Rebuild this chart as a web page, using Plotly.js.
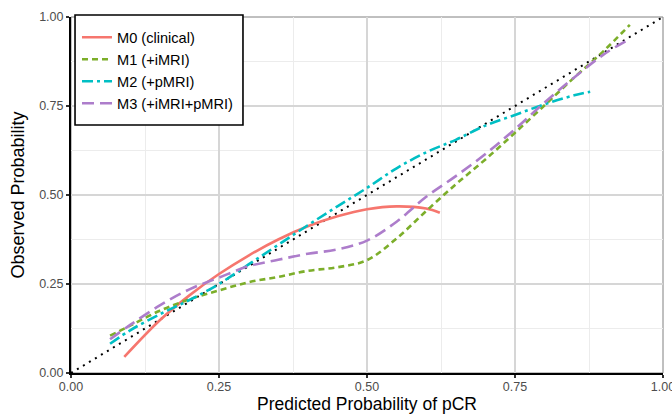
<!DOCTYPE html>
<html>
<head>
<meta charset="utf-8">
<script src="https://cdn.plot.ly/plotly-3.0.1.min.js"></script>
<style>html,body{margin:0;padding:0;background:#fff;}#chart{width:672px;height:414px;}</style>
</head>
<body>
<div id="chart"></div>
<script>
// Calibration curves
const seriesNames = ["M0 (clinical)", "M1 (+iMRI)", "M2 (+pMRI)", "M3 (+iMRI+pMRI)"];

const m0x = [0.09, 0.15, 0.20, 0.25, 0.30, 0.35, 0.40, 0.45, 0.50, 0.55, 0.60, 0.623];
const m0y = [0.045, 0.148, 0.218, 0.278, 0.33, 0.375, 0.412, 0.44, 0.46, 0.468, 0.462, 0.45];

const m1x = [0.066, 0.10, 0.15, 0.20, 0.25, 0.30, 0.35, 0.40, 0.45, 0.50, 0.55, 0.60, 0.65, 0.70, 0.75, 0.80, 0.85, 0.90, 0.944];
const m1y = [0.105, 0.133, 0.175, 0.207, 0.232, 0.255, 0.27, 0.287, 0.297, 0.317, 0.378, 0.455, 0.53, 0.60, 0.675, 0.752, 0.83, 0.905, 0.978];

const m2x = [0.066, 0.10, 0.15, 0.20, 0.25, 0.30, 0.35, 0.40, 0.45, 0.50, 0.55, 0.60, 0.65, 0.70, 0.75, 0.80, 0.85, 0.877];
const m2y = [0.082, 0.12, 0.165, 0.205, 0.25, 0.305, 0.36, 0.415, 0.468, 0.52, 0.575, 0.62, 0.655, 0.695, 0.725, 0.755, 0.78, 0.79];

const m3x = [0.066, 0.10, 0.15, 0.20, 0.25, 0.30, 0.35, 0.40, 0.45, 0.50, 0.55, 0.60, 0.65, 0.70, 0.75, 0.80, 0.85, 0.90, 0.94];
const m3y = [0.095, 0.135, 0.19, 0.235, 0.268, 0.30, 0.318, 0.335, 0.347, 0.372, 0.425, 0.495, 0.553, 0.615, 0.685, 0.76, 0.83, 0.895, 0.935];

const diagX = [0, 1];
const diagY = [0, 1];

const tickVals = [0, 0.25, 0.5, 0.75, 1];
const tickText = ["0.00", "0.25", "0.50", "0.75", "1.00"];

const colors = ["#F6766E", "#7CAE2A", "#00BFC4", "#AD7DCB"];
const dashes = ["solid", "6px,4px", "11px,4px,3px,4px", "12px,6px"];
const xs = [m0x, m1x, m2x, m3x];
const ys = [m0y, m1y, m2y, m3y];

const traces = seriesNames.map((name, i) => ({
  type: "scatter", mode: "lines", name: name,
  x: xs[i], y: ys[i],
  line: {color: colors[i], width: 2.6, dash: dashes[i], shape: "spline", smoothing: 1},
  legendgroup: "g" + i,
  hoverinfo: "skip"
}));
traces.unshift({
  type: "scatter", mode: "lines", x: diagX, y: diagY, showlegend: false,
  line: {color: "#000000", width: 2, dash: "2px,5px"}, hoverinfo: "skip"
});

const font = "Liberation Sans, Arial, Helvetica, sans-serif";

const axisCommon = {
  range: [0, 1], autorange: false,
  tickvals: tickVals, ticktext: tickText,
  showgrid: true, gridcolor: "#d6d6d6", gridwidth: 1.4,
  minor: {dtick: 0.125, tick0: 0, showgrid: true, gridcolor: "#ececec", gridwidth: 1},
  zeroline: false,
  showline: true, linecolor: "#000000", linewidth: 2,
  ticks: "outside", ticklen: 3, tickwidth: 1.2, tickcolor: "#333333",
  tickfont: {family: font, size: 12.5, color: "#4d4d4d"},
  ticklabeloverflow: "allow",
  fixedrange: true
};

const layout = {
  width: 672, height: 414,
  margin: {l: 71, r: 9, t: 17, b: 41, pad: 0},
  paper_bgcolor: "#ffffff", plot_bgcolor: "#ffffff",
  font: {family: font},
  xaxis: Object.assign({}, axisCommon, {
    ticklabelstandoff: -2,
    title: {text: "Predicted Probability of pCR", font: {family: font, size: 17.5, color: "#000000"}}
  }),
  yaxis: Object.assign({}, axisCommon, {
    title: {text: "Observed Probability", font: {family: font, size: 18, color: "#000000"}}
  }),
  shapes: [
    {type: "rect", xref: "paper", yref: "paper", x0: 0, x1: 1, y0: 0, y1: 1,
     line: {color: "#808080", width: 1}, layer: "below"},
    {type: "rect", xref: "paper", yref: "paper", x0: 0.0068, x1: 0.2905, y0: 0.6966, y1: 1.0056,
     line: {color: "#000000", width: 1.6}, fillcolor: "#ffffff", layer: "above"}
  ],
  showlegend: true,
  legend: {
    x: 0.0101, y: 0.988, xanchor: "left", yanchor: "top",
    bgcolor: "rgba(0,0,0,0)", borderwidth: 0,
    font: {family: font, size: 14.6, color: "#000000"},
    tracegroupgap: 1, traceorder: "normal"
  }
};

Plotly.newPlot("chart", traces, layout, {staticPlot: true, displayModeBar: false});
</script>
</body>
</html>
